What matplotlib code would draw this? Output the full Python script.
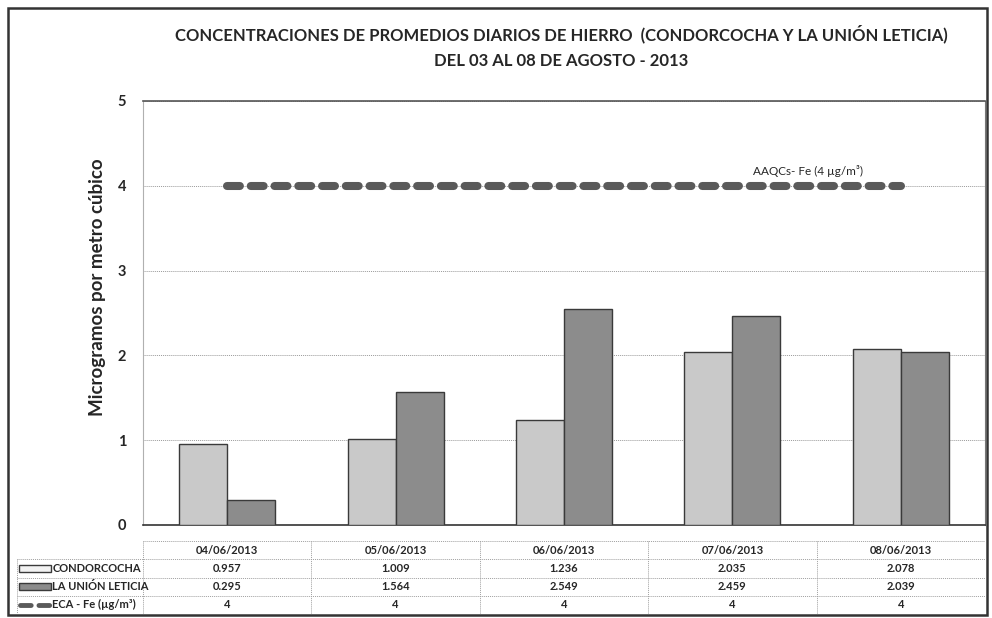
import matplotlib
matplotlib.use("Agg")
import matplotlib.pyplot as plt
from matplotlib.patches import Rectangle

plt.rcParams['font.family'] = ['Lato', 'DejaVu Sans']

# Daily iron averages (ug/m3)
FECHAS = ['04/06/2013', '05/06/2013', '06/06/2013', '07/06/2013', '08/06/2013']
CONDORCOCHA = [0.957, 1.009, 1.236, 2.035, 2.078]
LETICIA = [0.295, 1.564, 2.549, 2.459, 2.039]
ECA_FE = [4, 4, 4, 4, 4]

SERIES = ['CONDORCOCHA', 'LA UNIÓN LETICIA', 'ECA - Fe (µg/m³)']
TITULO = ('CONCENTRACIONES DE PROMEDIOS DIARIOS DE HIERRO  (CONDORCOCHA Y LA UNIÓN LETICIA)\n'
          'DEL 03 AL 08 DE AGOSTO - 2013')

C_LIGHT = '#c9c9c9'
C_DARK = '#8c8c8c'
C_EDGE = '#3a3a3a'
C_LINE = '#5a5a5a'
TXT = '#262626'

W, H = 992, 618
fig = plt.figure(figsize=(W / 100, H / 100), dpi=100)


def px_box(x0, y0, x1, y1):
    return [x0 / W, 1 - y1 / H, (x1 - x0) / W, (y1 - y0) / H]


# outer frame
fig.add_artist(Rectangle((8 / W, 1 - 615 / H), (987 - 8) / W, (615 - 8) / H,
                         transform=fig.transFigure, fill=False,
                         edgecolor='#333333', lw=1.8))

ax = fig.add_axes(px_box(143, 101, 985, 525))
x = list(range(len(FECHAS)))
bw = 0.285
ax.bar([i - bw / 2 for i in x], CONDORCOCHA, bw, color=C_LIGHT,
       edgecolor=C_EDGE, lw=1.0, zorder=3)
ax.bar([i + bw / 2 for i in x], LETICIA, bw, color=C_DARK,
       edgecolor=C_EDGE, lw=1.0, zorder=3)
ax.plot(x, ECA_FE, color=C_LINE, lw=5.8, dashes=(1.6, 1.35),
        dash_capstyle='round', zorder=4)
ax.text(3.45, 4.1, 'AAQCs- Fe (4 µg/m³)', ha='center', va='bottom',
        fontsize=8.5, color=TXT)

ax.set_xlim(-0.5, 4.5)
ax.set_ylim(0, 5)
ax.set_yticks([0, 1, 2, 3, 4, 5])
ax.set_xticks([])
ax.tick_params(axis='y', length=0, pad=12, labelsize=10.5, labelcolor=TXT)
for t in ax.get_yticklabels():
    t.set_fontweight('bold')
ax.grid(axis='y', color='#9a9a9a', lw=0.7, ls=(0, (1, 1)), zorder=0)
ax.spines['left'].set_color('#b0b0b0')
ax.spines['top'].set_color('#555555')
ax.spines['right'].set_color('#777777')
ax.spines['bottom'].set_color('#333333')
ax.spines['top'].set_linewidth(1.2)
ax.spines['bottom'].set_linewidth(1.2)

fig.text(97 / W, 1 - 287 / H, 'Microgramos por metro cúbico', rotation=90,
         ha='center', va='center', fontsize=13.5, fontweight='bold', color=TXT)

fig.text(561 / W, 1 - 47 / H, TITULO, ha='center', va='center', fontsize=12,
         fontweight='bold', color=TXT, linespacing=1.75)

# data table under the plot, columns aligned with categories
cat_px = 842 / 5
tx0 = -0.5 - (143 - 8) / cat_px
lab_x = -0.5 - (143 - 17) / cat_px
tab = fig.add_axes(px_box(8, 541, 985, 614))
tab.set_xlim(tx0, 4.5)
tab.set_ylim(4, 0)
tab.axis('off')
grid_kw = dict(color='#a0a0a0', lw=0.7, ls=(0, (1, 1)))
tab.plot([-0.5, 4.5], [0, 0], **grid_kw)
for r in (1, 2, 3):
    tab.plot([lab_x, 4.5], [r, r], **grid_kw)
for c in range(6):
    tab.plot([c - 0.5, c - 0.5], [0, 4], **grid_kw)
tab.plot([lab_x, lab_x], [1, 4], **grid_kw)

fs = 8
for i, f in enumerate(FECHAS):
    tab.text(i, 0.5, f, ha='center', va='center', fontsize=fs,
             fontweight='bold', color=TXT)
    tab.text(i, 1.5, f'{CONDORCOCHA[i]:.3f}', ha='center', va='center',
             fontsize=fs, fontweight='bold', color=TXT)
    tab.text(i, 2.5, f'{LETICIA[i]:.3f}', ha='center', va='center',
             fontsize=fs, fontweight='bold', color=TXT)
    tab.text(i, 3.5, f'{ECA_FE[i]}', ha='center', va='center',
             fontsize=fs, fontweight='bold', color=TXT)

# legend keys inside the row labels
sw = 32 / cat_px
tab.add_patch(Rectangle((lab_x + 0.01, 1.3), sw, 0.4, facecolor='#f2f2f2',
                        edgecolor=C_EDGE, lw=1.0))
tab.add_patch(Rectangle((lab_x + 0.01, 2.3), sw, 0.4, facecolor=C_DARK,
                        edgecolor=C_EDGE, lw=1.0))
tab.plot([lab_x + 0.02, lab_x + 0.02 + sw], [3.5, 3.5], color=C_LINE, lw=3.5,
         dashes=(2.2, 1.6), dash_capstyle='round')
for r, name in enumerate(SERIES, start=1):
    tab.text(lab_x + sw + 0.02, r + 0.5, name, ha='left', va='center',
             fontsize=fs, fontweight='bold', color=TXT)

fig.savefig('out.png', dpi=100)
